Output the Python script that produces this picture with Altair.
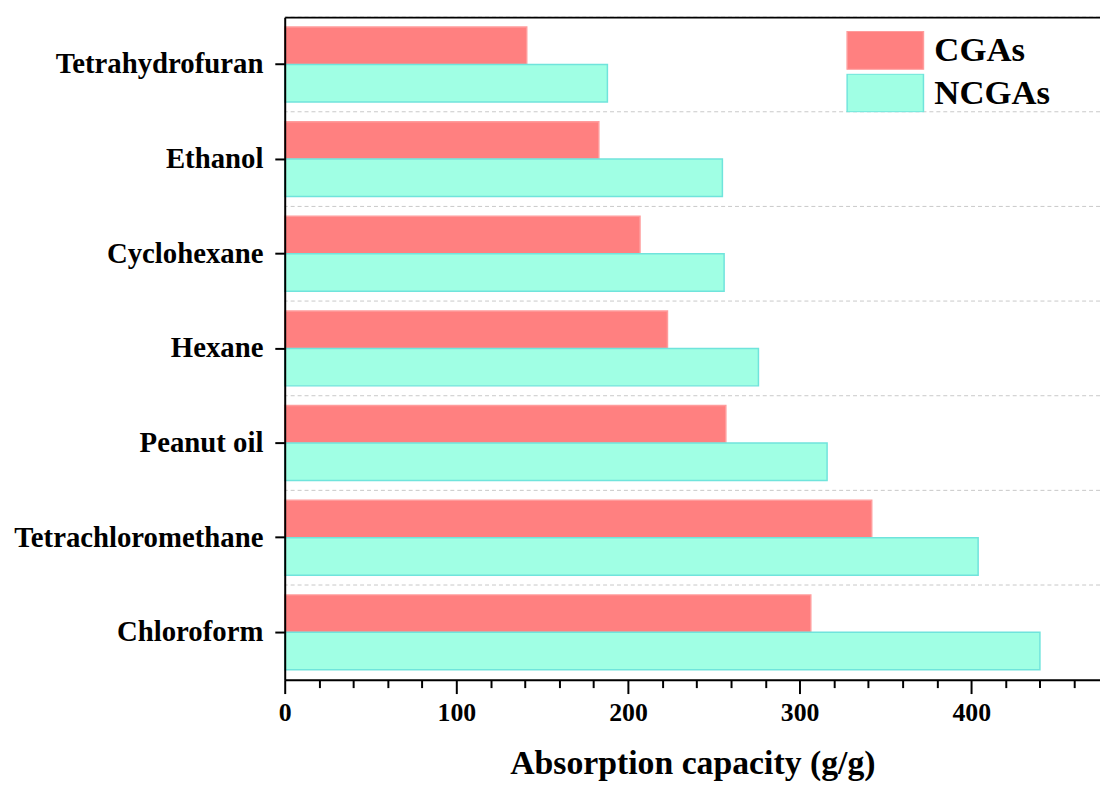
import altair as alt
import pandas as pd

categories = ["Tetrahydrofuran", "Ethanol", "Cyclohexane", "Hexane",
              "Peanut oil", "Tetrachloromethane", "Chloroform"]
series = ["CGAs", "NCGAs"]
cgas = [141, 183, 207, 223, 257, 342, 306.5]
ncgas = [188, 255, 256, 276, 316, 404, 440]
x_tick_values = list(range(0, 461, 20))

rows = []
for c, a, b in zip(categories, cgas, ncgas):
    rows.append({"solvent": c, "series": "CGAs", "value": a})
    rows.append({"solvent": c, "series": "NCGAs", "value": b})
df = pd.DataFrame(rows)
cat_df = pd.DataFrame({"solvent": categories})

FONT = "Liberation Serif"
fill_colors = ["#FF8080", "#A0FFE4"]
stroke_colors = ["#FF9C9C", "#70E4DC"]

yscale = alt.Scale(domain=categories, paddingInner=0, paddingOuter=0)

y_axis = alt.Axis(
    title=None, labelFontSize=29, labelFontWeight="bold", labelColor="black",
    labelFont=FONT, labelPadding=12, labelLimit=0,
    tickSize=10, tickWidth=2, tickColor="black",
    domainColor="black", domainWidth=2, grid=False, zindex=2,
)

grid = alt.Chart(cat_df).mark_rule(color="#c8c8c8", strokeDash=[4, 3], strokeWidth=1).encode(
    y=alt.Y("solvent:N", scale=yscale, bandPosition=0, axis=y_axis)
)

x_axis = alt.Axis(
    values=x_tick_values,
    labelExpr="datum.value % 100 === 0 ? datum.label : ''",
    tickSize={"condition": {"test": "datum.value % 100 === 0", "value": 14}, "value": 8},
    tickWidth=2, tickColor="black",
    domainColor="black", domainWidth=2,
    labelFontSize=26, labelFontWeight="bold", labelColor="black", labelPadding=6,
    labelFont=FONT, labelFlush=False,
    grid=False, zindex=2,
    title="Absorption capacity (g/g)", titleFontSize=34, titleFontWeight="bold",
    titleColor="black", titleFont=FONT, titlePadding=22,
)

bars = alt.Chart(df).mark_bar(strokeWidth=1.5).encode(
    x=alt.X("value:Q", scale=alt.Scale(domain=[0, 475], nice=False), axis=x_axis),
    y=alt.Y("solvent:N", scale=yscale),
    yOffset=alt.YOffset("series:N", sort=series,
                        scale=alt.Scale(domain=series, paddingInner=0, paddingOuter=0.263)),
    fill=alt.Fill("series:N", scale=alt.Scale(domain=series, range=fill_colors),
                  legend=alt.Legend(
                      title=None, orient="none", legendX=566, legendY=14,
                      symbolType="M-1,-0.5H1V0.5H-1Z", symbolSize=5929,
                      clipHeight=39, rowPadding=4, labelOffset=10,
                      labelFontSize=35, labelFontWeight="bold", labelColor="black",
                      labelFont=FONT, padding=0, symbolStrokeWidth=1.5,
                      symbolOpacity=1,
                  )),
    stroke=alt.Stroke("series:N", scale=alt.Scale(domain=series, range=stroke_colors),
                      legend=None),
)

top_frame = alt.Chart(df).mark_bar(opacity=0).encode(
    x=alt.X("value:Q", scale=alt.Scale(domain=[0, 475], nice=False),
            axis=alt.Axis(orient="top", labels=False, ticks=False, title=None,
                          domainColor="black", domainWidth=2, grid=False, zindex=2)),
    y=alt.Y("solvent:N", scale=yscale),
)

chart = alt.layer(grid, bars, top_frame).resolve_axis(x="independent").properties(
    width=822, height=668,
    autosize=alt.AutoSizeParams(type="none"),
    padding={"left": 279, "top": 6, "right": 0, "bottom": 104},
).configure_view(strokeWidth=0).configure(font=FONT)

chart.save("out.html", embed_options={"renderer": "svg", "actions": False})
